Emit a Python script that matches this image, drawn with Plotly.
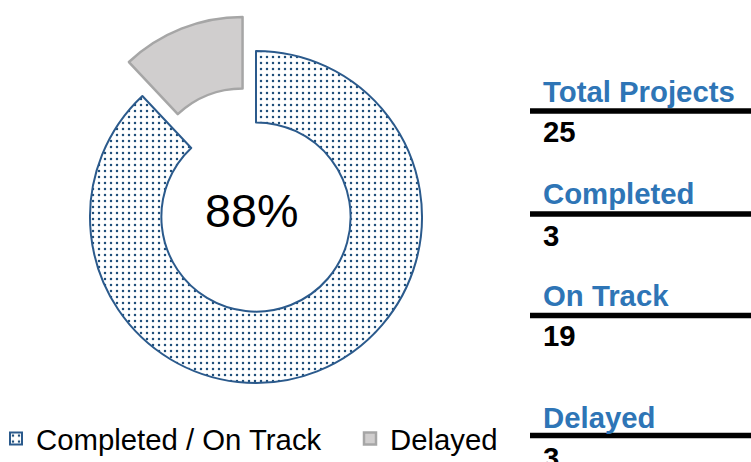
import plotly.graph_objects as go

# ---- data ----
kpi_labels = ["Total Projects", "Completed", "On Track", "Delayed"]
kpi_values = [25, 3, 19, 3]
pie_labels = ["Completed / On Track", "Delayed"]
pie_values = [kpi_values[1] + kpi_values[2], kpi_values[3]]
pct_text = f"{round(100 * pie_values[0] / kpi_values[0])}%"

W, H = 751, 462
FONT = "Arial, Liberation Sans, sans-serif"
BLUE = "#2E75B6"
FS = 29.33

def px_x(x):
    return x / W

def px_y(y):
    return 1 - y / H

fig = go.Figure()

# pie geometry (pixels)
cx, cy, r, pull = 256, 217, 166, 0.22
half = r * (1 + pull)
fig.add_trace(go.Pie(
    labels=pie_labels,
    values=pie_values,
    hole=0.57,
    sort=False,
    direction="clockwise",
    rotation=0,
    pull=[0, pull],
    textinfo="none",
    hoverinfo="label+value+percent",
    marker=dict(
        colors=["white", "#D0CECE"],
        line=dict(color=["#2B5A8C", "#A6A6A6"], width=[2, 2.5]),
        pattern=dict(
            shape=[".", ""],
            fgcolor=["#1F4E79", "#D0CECE"],
            bgcolor=["white", "#D0CECE"],
            size=6,
            solidity=0.14,
        ),
    ),
    domain=dict(
        x=[px_x(cx - half), px_x(cx + half)],
        y=[px_y(cy + half), px_y(cy - half)],
    ),
))

annotations = [
    dict(text=pct_text, x=px_x(251), y=px_y(211), xref="paper", yref="paper",
         xanchor="center", yanchor="middle", showarrow=False,
         font=dict(family=FONT, size=46.67, color="black")),
]

label_cy = [91, 193, 295, 417]
value_cy = [131.5, 235, 335, 457]
line_y = [111, 214, 315.5, 435.5]
shapes = []
for lab, val, ly, vy, yy in zip(kpi_labels, kpi_values, label_cy, value_cy, line_y):
    annotations.append(dict(text=f"<b>{lab}</b>", x=px_x(541), y=px_y(ly),
                            xref="paper", yref="paper", xanchor="left", yanchor="middle",
                            showarrow=False, font=dict(family=FONT, size=FS, color=BLUE)))
    annotations.append(dict(text=f"<b>{val}</b>", x=px_x(541), y=px_y(vy),
                            xref="paper", yref="paper", xanchor="left", yanchor="middle",
                            showarrow=False, font=dict(family=FONT, size=FS, color="black")))
    shapes.append(dict(type="line", xref="paper", yref="paper",
                       x0=px_x(530), x1=1.0, y0=px_y(yy), y1=px_y(yy),
                       line=dict(color="black", width=5.5)))

fig.update_layout(
    width=W, height=H,
    margin=dict(l=0, r=0, t=0, b=0, autoexpand=False),
    paper_bgcolor="white",
    plot_bgcolor="white",
    showlegend=True,
    legend=dict(
        orientation="h",
        x=-4 / W, xanchor="left",
        y=-3 / H, yanchor="bottom",
        font=dict(family=FONT, size=FS, color="black"),
        entrywidth=309, entrywidthmode="pixels",
        traceorder="normal",
        bgcolor="rgba(0,0,0,0)",
    ),
    annotations=annotations,
    shapes=shapes,
)

post = """
document.documentElement.style.margin='0';
document.documentElement.style.overflow='hidden';
document.body.style.margin='0';
document.body.style.padding='0';
document.body.style.overflow='hidden';
"""

fig.write_html(
    "out.html",
    config={"displayModeBar": False},
    post_script=post,
)
